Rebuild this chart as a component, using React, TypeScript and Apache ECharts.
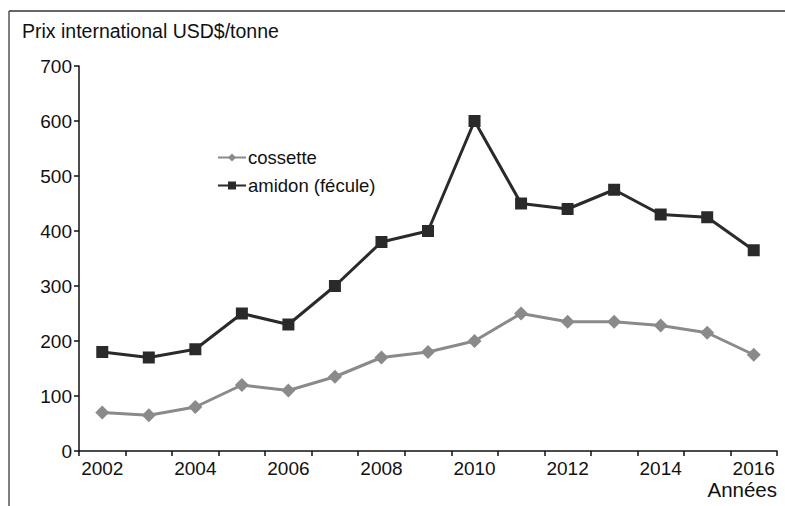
import React, { useEffect, useRef } from "react";
import * as echarts from "echarts";

const years = ["2002","2003","2004","2005","2006","2007","2008","2009","2010","2011","2012","2013","2014","2015","2016"];
const cossette = [70, 65, 80, 120, 110, 135, 170, 180, 200, 250, 235, 235, 228, 215, 175];
const amidon = [180, 170, 185, 250, 230, 300, 380, 400, 600, 450, 440, 475, 430, 425, 365];
const yTitle = "Prix international USD$/tonne";
const xTitle = "Années";

export default function App() {
  const ref = useRef<HTMLDivElement>(null);
  useEffect(() => {
    const chart = echarts.init(ref.current!, null, { renderer: "svg" });
    const font = "Liberation Sans, Arial, Helvetica, sans-serif";
    chart.setOption({
      animation: false,
      backgroundColor: "#ffffff",
      textStyle: { fontFamily: font },
      grid: { left: 79, right: 8, top: 66, bottom: 55 },
      legend: {
        orient: "vertical",
        left: 217,
        top: 148,
        padding: 0,
        itemWidth: 28,
        itemHeight: 10,
        itemGap: 9,
        textStyle: { fontSize: 18.5, color: "#111", fontFamily: font, padding: [0, 0, 0, -3] },
        data: ["cossette", "amidon (fécule)"],
      },
      xAxis: {
        type: "category",
        data: years,
        boundaryGap: true,
        axisLine: { lineStyle: { color: "#111", width: 1.5 } },
        axisTick: { show: true, interval: 0, length: 5, lineStyle: { color: "#111", width: 1.5 } },
        axisLabel: { interval: 1, fontSize: 19, color: "#111", margin: 8, fontFamily: font },
      },
      yAxis: {
        type: "value",
        min: 0,
        max: 700,
        interval: 100,
        axisLine: { show: true, lineStyle: { color: "#111", width: 1.5 } },
        axisTick: { show: true, length: 5, lineStyle: { color: "#111", width: 1.5 } },
        axisLabel: { fontSize: 19, color: "#111", margin: 7, fontFamily: font },
        splitLine: { show: false },
      },
      graphic: [
        { type: "line", shape: { x1: 9, y1: 11, x2: 785, y2: 11 }, style: { stroke: "#333", lineWidth: 1.5 } },
        { type: "line", shape: { x1: 9, y1: 11, x2: 9, y2: 506 }, style: { stroke: "#555", lineWidth: 1.5 } },
        { type: "text", left: 22, top: 21, style: { text: yTitle, fontSize: 19.5, fill: "#111", fontFamily: font } },
        { type: "text", right: 8, top: 479, style: { text: xTitle, fontSize: 20.5, fill: "#111", fontFamily: font } },
      ],
      series: [
        {
          name: "cossette",
          type: "line",
          data: cossette,
          symbol: "diamond",
          symbolSize: 14,
          color: "#8a8a8a",
          lineStyle: { width: 3, color: "#8a8a8a" },
          itemStyle: { color: "#8a8a8a" },
        },
        {
          name: "amidon (fécule)",
          type: "line",
          data: amidon,
          symbol: "rect",
          symbolSize: 12,
          color: "#2a2a2a",
          lineStyle: { width: 3, color: "#2a2a2a" },
          itemStyle: { color: "#2a2a2a" },
        },
      ],
    });
    return () => chart.dispose();
  }, []);
  return <div ref={ref} style={{ position: "fixed", left: 0, top: 0, width: 785, height: 506 }} />;
}
